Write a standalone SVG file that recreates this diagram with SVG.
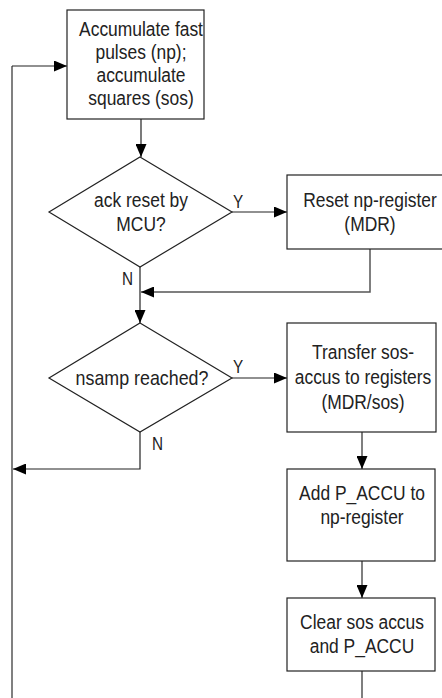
<svg xmlns="http://www.w3.org/2000/svg" width="442" height="698" viewBox="0 0 442 698">
<style>
.box{fill:#fff;stroke:#222;stroke-width:1.2}
.t{font-family:"Liberation Sans",Arial,sans-serif;font-size:21px;fill:#222;text-anchor:middle}
.lb{font-family:"Liberation Sans",Arial,sans-serif;font-size:18px;fill:#222}
.c{fill:none;stroke:#222;stroke-width:1.2}
.cg{fill:none;stroke:#555;stroke-width:1.5}
.cl{fill:none;stroke:#808080;stroke-width:2}
</style>
<defs>
<marker id="ah" markerWidth="13" markerHeight="11" refX="13" refY="5.5" orient="auto" markerUnits="userSpaceOnUse"><path d="M0,0 L13,5.5 L0,11 z" fill="#000"/></marker>
</defs>
<rect width="442" height="698" fill="#fff"/>
<g id="connectors">
<path class="cl" d="M12,698 V66"/>
<path class="c" d="M12,66 H67" marker-end="url(#ah)"/>
<path class="c" d="M141,119 V157" marker-end="url(#ah)"/>
<path class="c" d="M232,212 H287" marker-end="url(#ah)"/>
<path class="c" d="M140,267 V323" marker-end="url(#ah)"/>
<path class="cg" d="M370,249 V292 H141" marker-end="url(#ah)"/>
<path class="c" d="M232,378 H287" marker-end="url(#ah)"/>
<path class="c" d="M140,432 V469 H13" marker-end="url(#ah)"/>
<path class="cg" d="M362,432 V469" marker-end="url(#ah)"/>
<path class="cg" d="M362,561 V598" marker-end="url(#ah)"/>
<path class="cg" d="M362,671 V698"/>
<text class="lb" transform="translate(233,208) scale(0.85,1)">Y</text>
<text class="lb" transform="translate(122,285) scale(0.85,1)">N</text>
<text class="lb" transform="translate(233,373) scale(0.85,1)">Y</text>
<text class="lb" transform="translate(152,450) scale(0.85,1)">N</text>
</g>
<g id="accumulate">
<rect class="box" x="67" y="10" width="137" height="109"/>
<text class="t" transform="translate(141,36) scale(0.83,1)">Accumulate fast</text>
<text class="t" transform="translate(141,59) scale(0.83,1)">pulses (np);</text>
<text class="t" transform="translate(141,82) scale(0.83,1)">accumulate</text>
<text class="t" transform="translate(141,105) scale(0.83,1)">squares (sos)</text>
</g>
<g id="ackreset">
<polygon class="box" points="140,157 232,212 140,267 49,212"/>
<text class="t" transform="translate(141,207) scale(0.83,1)">ack reset by</text>
<text class="t" transform="translate(141,231) scale(0.83,1)">MCU?</text>
</g>
<g id="resetnp">
<rect class="box" x="287" y="175" width="166" height="74"/>
<text class="t" transform="translate(370,207) scale(0.83,1)">Reset np-register</text>
<text class="t" transform="translate(370,231) scale(0.83,1)">(MDR)</text>
</g>
<g id="nsamp">
<polygon class="box" points="140,323 232,378 140,432 49,378"/>
<text class="t" transform="translate(142,385) scale(0.85,1)">nsamp reached?</text>
</g>
<g id="transfer">
<rect class="box" x="287" y="323" width="149" height="109"/>
<text class="t" transform="translate(363,359) scale(0.83,1)">Transfer sos-</text>
<text class="t" transform="translate(363,384) scale(0.83,1)">accus to registers</text>
<text class="t" transform="translate(363,409) scale(0.83,1)">(MDR/sos)</text>
</g>
<g id="addpaccu">
<rect class="box" x="287" y="469" width="148" height="92"/>
<text class="t" transform="translate(362,500) scale(0.83,1)">Add P_ACCU to</text>
<text class="t" transform="translate(362,524) scale(0.83,1)">np-register</text>
</g>
<g id="clear">
<rect class="box" x="287" y="598" width="148" height="73"/>
<text class="t" transform="translate(362,629) scale(0.83,1)">Clear sos accus</text>
<text class="t" transform="translate(362,653) scale(0.83,1)">and P_ACCU</text>
</g>
</svg>
